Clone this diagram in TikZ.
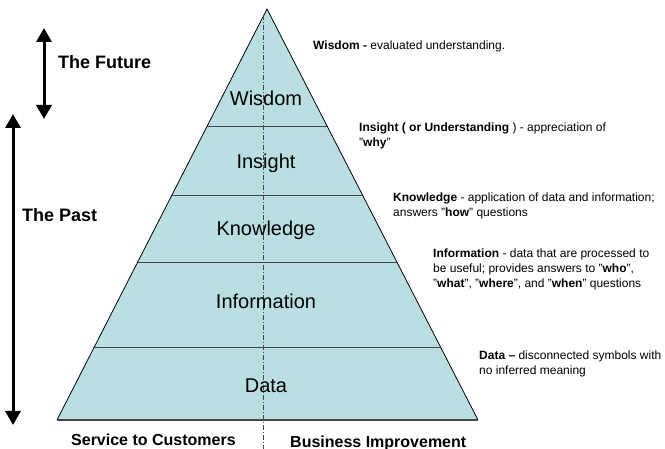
\documentclass[tikz,border=0pt]{standalone}
\usepackage{fontspec}
\setmainfont{Liberation Sans}
\usetikzlibrary{arrows.meta,calc}
\definecolor{tierfill}{RGB}{186,223,226}
\definecolor{divline}{RGB}{70,70,70}
\tikzset{
  level/.style={anchor=base,inner sep=0pt,font=\fontsize{20}{24}\selectfont},
  note/.style={anchor=base west,inner sep=0pt,align=left,font=\fontsize{12}{15}\selectfont},
  side/.style={anchor=base west,inner sep=0pt,font=\fontsize{18}{22}\selectfont\bfseries},
  bottom/.style={anchor=base west,inner sep=0pt,font=\fontsize{16}{20}\selectfont\bfseries},
  timearrow/.style={line width=3pt,{Triangle[width=15pt,length=14pt]}-{Triangle[width=15pt,length=14pt]}},
  pastarrow/.style={line width=3pt,-{Triangle[width=15pt,length=14pt]}},
  divider/.style={draw=divline,line width=1pt},
  centre/.style={draw=divline,line width=0.8pt,dash pattern=on 5pt off 2pt on 1pt off 2pt}
}
\begin{document}
\begin{tikzpicture}[x=1pt,y=-1pt]
\useasboundingbox (0,0) rectangle (665,449);
\coordinate (apex) at (267,9);
\coordinate (bl) at (57,420);
\coordinate (br) at (478,420);
\fill[tierfill] (bl) -- (apex) -- (br) -- cycle;
\draw[divider] ($(bl)!0.7129!(apex)$) -- ($(br)!0.7129!(apex)$);
\draw[divider] ($(bl)!0.5474!(apex)$) -- ($(br)!0.5474!(apex)$);
\draw[divider] ($(bl)!0.3844!(apex)$) -- ($(br)!0.3844!(apex)$);
\draw[divider] ($(bl)!0.1776!(apex)$) -- ($(br)!0.1776!(apex)$);
\draw[line width=0.8pt] (bl) -- (apex) -- (br);
\draw[divider,line width=1.4pt] (bl) -- (br);
\coordinate (ctop) at (263,15);
\coordinate (cbot) at (263,449);
\draw[centre] (ctop) -- (cbot);
% level labels
\node[level] (wis) at (266,106) {Wisdom};
\node[level] (ins) at (266,169) {Insight};
\node[level] (kno) at (266,236) {Knowledge};
\node[level] (inf) at (266,309) {Information};
\node[level] (dat) at (266,393) {Data};
% notes
\node[note] (nwis) at (313,49.5) {\textbf{Wisdom -} evaluated understanding.};
\node[note] (nins) at (359,146.5) {\textbf{Insight ( or Understanding} ) - appreciation of\\"\textbf{why}"};
\node[note] (nkno) at (393,216.5) {\textbf{Knowledge} - application of data and information;\\answers "\textbf{how}" questions};
\node[note] (ninf) at (433,287.5) {\textbf{Information} - data that are processed to\\be useful; provides answers to "\textbf{who}",\\"\textbf{what}", "\textbf{where}", and "\textbf{when}" questions};
\node[note] (ndat) at (479,374.5) {\textbf{Data –} disconnected symbols with\\no inferred meaning};
% side labels and arrows
\coordinate (ftop) at (44,28);
\coordinate (fbot) at (44,119);
\draw[timearrow] (ftop) -- (fbot);
\coordinate (ptop) at (13,114);
\coordinate (pbot) at (13,425);
\draw[timearrow] (ptop) -- (pbot);
\node[side] (fut) at (58,68.5) {The Future};
\node[side] (past) at (22,221.5) {The Past};
\node[bottom] (svc) at (71,446) {Service to Customers};
\node[bottom] (biz) at (290,447) {Business Improvement};
\end{tikzpicture}
\end{document}
